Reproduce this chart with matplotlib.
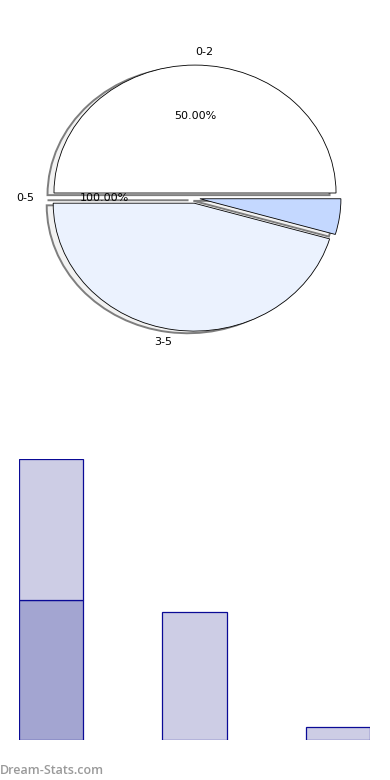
import numpy as np
import matplotlib
matplotlib.use("Agg")
import matplotlib.pyplot as plt
from matplotlib.patches import Shadow

# pie data
pie_labels = ["0-2", "0-5", "3-5", ""]
pie_values = [50.0, 0.0, 45.5, 4.5]
pie_pcts = ["50.00%", "100.00%", "", ""]
pie_colors = ["#FFFFFF", "#FFFFFF", "#EBF2FE", "#C4D8FF"]
pie_explode = [0.04, 0.0, 0.04, 0.035]

# bar data
bar_pos = [0, 1, 2]
bar_lower = [50.0, 0.0, 0.0]
bar_upper = [50.0, 45.5, 4.5]

fig = plt.figure(figsize=(3.9, 7.8), dpi=100)

# ---- pie ----
ax1 = fig.add_axes([0.048, 0.541, 0.904, 0.410])
pct_iter = iter(pie_pcts)
wedges, texts, autotexts = ax1.pie(
    pie_values, labels=pie_labels, colors=pie_colors, explode=pie_explode,
    autopct=lambda p: next(pct_iter), startangle=0, counterclock=True,
    shadow=dict(ox=-0.033, oy=-0.012), labeldistance=1.1, pctdistance=0.6,
    wedgeprops=dict(edgecolor="black", linewidth=0.6),
    textprops=dict(fontsize=8))
wedges[1].set_visible(False)
# softer, outline-like shadow
for p in ax1.patches:
    if isinstance(p, Shadow):
        p.set_facecolor("#F2F2F2")
        p.set_edgecolor("#7E7E7E")
        p.set_linewidth(1.4)
        p.set_alpha(1)
texts[0].set_ha("left")
# the empty 0-5 slice sits a little further out
texts[1].set_x(texts[1].get_position()[0] - 0.04)
autotexts[1].set_x(autotexts[1].get_position()[0] - 0.04)
ax1.set_aspect("auto")
ax1.set_xlim(-1.25, 1.25)
ax1.set_ylim(-1.25, 1.25)
ax1.axis("off")

# ---- bars ----
ax2 = fig.add_axes([0.0487, 0.0513, 0.9, 0.360])
ax2.bar(bar_pos, bar_lower, width=0.45, color="#A3A5D1", edgecolor="#0A0A96", linewidth=0.9)
ax2.bar(bar_pos, bar_upper, width=0.45, bottom=bar_lower, color="#CDCDE5",
        edgecolor="#0A0A96", linewidth=0.9)
ax2.set_xlim(-0.225, 2.225)
ax2.set_ylim(0, 100)
ax2.axis("off")

fig.text(0.0, 0.0125, "Dream-Stats.com", fontsize=9, color="#9A9A9A",
         family="Open Sans", fontweight="semibold", ha="left", va="center")

fig.savefig("out.png", dpi=100)
